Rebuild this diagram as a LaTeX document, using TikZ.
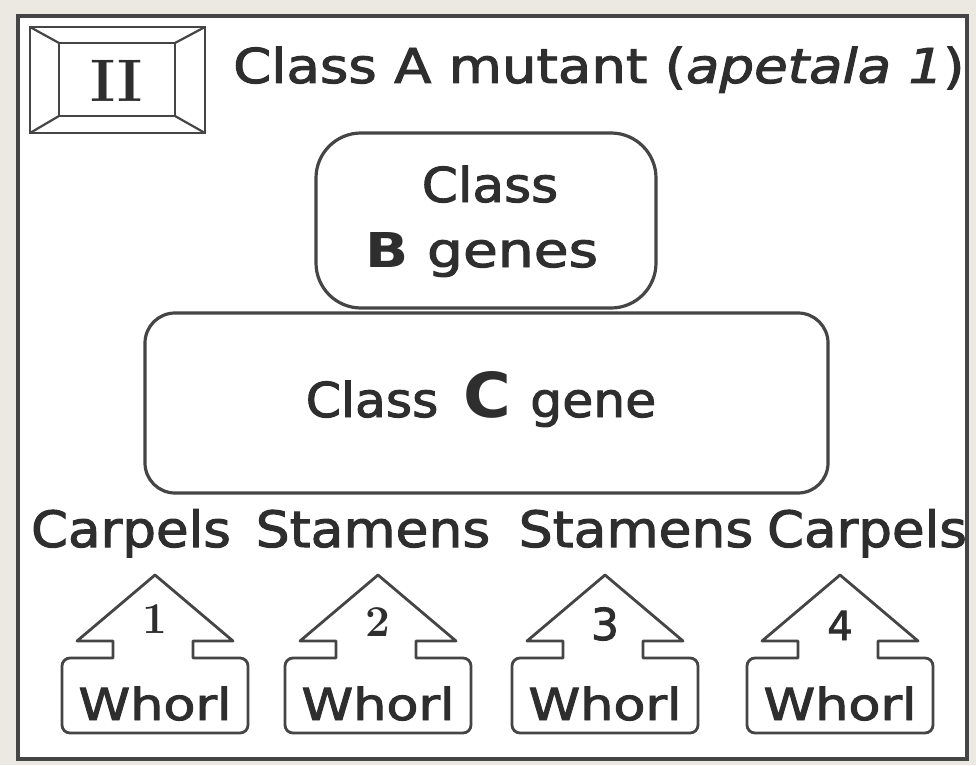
\documentclass[tikz,border=0pt]{standalone}
\usepackage{fontspec}
\newfontfamily\dv{DejaVu Sans}[FakeBold=2]
\newfontfamily\dvb{DejaVu Sans Bold}
\definecolor{ink}{HTML}{2E2E2E}
\definecolor{linec}{HTML}{454545}
\definecolor{paper}{HTML}{ECE9E3}
\newcommand{\fs}[1]{\fontsize{#1}{#1}\selectfont}
\tikzset{
  boxline/.style={draw=linec, line width=3.2pt},
  wline/.style={draw=linec, line width=2.8pt, line join=round},
  txt/.style={text=ink, inner sep=0pt, anchor=base},
  whorl/.pic={
    \draw[wline] (0,-66) -- (78,0) -- (38,0) -- (38,17)
      [rounded corners=8] -- (93,17) -- (93,92) -- (-93,92) -- (-93,17)
      [sharp corners] -- (-42,17) -- (-42,0) -- (-78,0) -- cycle;
  }
}
\begin{document}
\begin{tikzpicture}[x=1pt, y=-1pt]
\useasboundingbox (0,0) rectangle (976,765);
% page and outer frame
\fill[paper] (0,0) rectangle (976,765);
\draw[draw=linec, line width=3.5pt, fill=white] (18,16) rectangle (967,759);

% panel badge
\draw[boxline, line width=2.6pt] (30,27) rectangle (205,133);
\draw[boxline, line width=2.6pt] (59,43) rectangle (175,116);
\draw[linec, line width=2.2pt] (30,27) -- (59,43) (205,27) -- (175,43)
  (30,133) -- (59,116) (205,133) -- (175,116);
\node[txt, anchor=center] (badge) at (117,81) {\bfseries\fs{60}II};

% heading
\node[txt, anchor=base west] (title) at (233,83)
  {\dv\fs{48}\scalebox{1.137}[1]{Class A mutant (\itshape apetala 1\upshape)}};

% class B box
\draw[boxline, rounded corners=45] (316,133) rectangle (656,308);
\node[txt] (bclass) at (490,202) {\dv\fs{48}\scalebox{1.08}[1]{Class}};
\node[txt] (bgenes) at (482,267) {\dv\fs{48}\scalebox{1.18}[1]{{\dvb B}\ genes}};

% class C box
\draw[boxline, rounded corners=30] (145,313) rectangle (828,493);
\node[txt] (cgene) at (481,417)
  {\dv\fs{48}\scalebox{1.05}[1]{Class\hspace{24pt}{\dvb\fs{62}C}\hspace{18pt}gene}};

% organ labels
\node[txt] (org1) at (131,547) {\dv\fs{50}\scalebox{1.06}[1]{Carpels}};
\node[txt] (org2) at (373,547) {\dv\fs{50}\scalebox{1.07}[1]{Stamens}};
\node[txt] (org3) at (636,547) {\dv\fs{50}\scalebox{1.07}[1]{Stamens}};
\node[txt] (org4) at (867,547) {\dv\fs{50}\scalebox{1.06}[1]{Carpels}};

% whorl arrows
\foreach \cx in {155,378,605,840} {
  \pic at (\cx,641) {whorl};
}
\node[txt] (n1) at (155,633) {\bfseries\fs{44}1};
\node[txt] (n2) at (378,636) {\bfseries\fs{44}2};
\node[txt] (n3) at (605,640) {\dv\fs{44}3};
\node[txt] (n4) at (840,640) {\dv\fs{40}4};
\node[txt] (w1) at (155,720) {\dv\fs{44}\scalebox{1.19}[1]{Whorl}};
\node[txt] (w2) at (378,720) {\dv\fs{44}\scalebox{1.19}[1]{Whorl}};
\node[txt] (w3) at (605,720) {\dv\fs{44}\scalebox{1.19}[1]{Whorl}};
\node[txt] (w4) at (840,720) {\dv\fs{44}\scalebox{1.19}[1]{Whorl}};
\end{tikzpicture}
\end{document}
